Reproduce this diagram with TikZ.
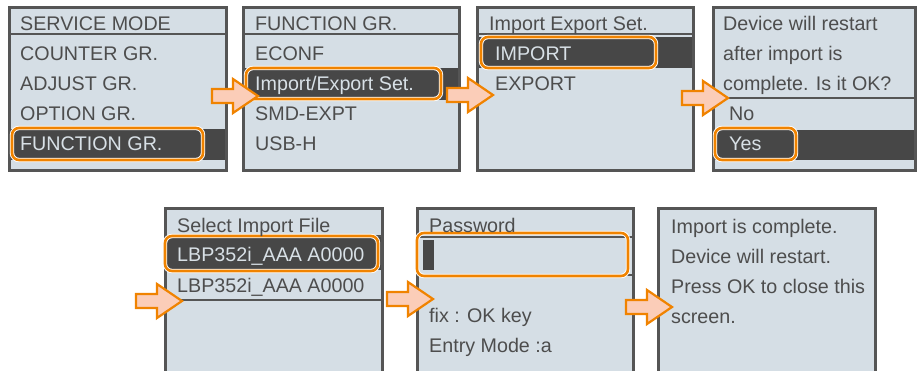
\documentclass[tikz,border=0pt]{standalone}
\usepackage{fontspec}
\setmainfont{Liberation Sans}

\definecolor{screen}{HTML}{D5DEE5}
\definecolor{frame}{HTML}{555555}
\definecolor{barfill}{HTML}{474747}
\definecolor{ink}{HTML}{4D4D4D}
\definecolor{pale}{HTML}{D8E0E6}
\definecolor{marker}{HTML}{F08300}
\definecolor{peach}{HTML}{FBCDB8}

\begin{document}
\begin{tikzpicture}[x=1pt, y=-1pt,
        panel/.style={draw=frame, fill=screen, line width=3pt},
        rule/.style={draw=frame, line width=2pt},
        darkrow/.style={fill=barfill},
        row/.style={anchor=west, inner sep=0pt, text height=14pt, text depth=0pt, text=ink, font=\fontsize{19.7}{22}\selectfont},
        hi/.style={row, text=pale},
        pick/.style={draw=white, double=marker, double distance=2.6pt, line width=0.9pt, rounded corners=7pt},
        hint/.style={draw=marker, fill=peach, line width=2.2pt}
    ]
    \useasboundingbox (0,0) rectangle (917,370);

    % SERVICE MODE
    \begin{scope}[shift={(9,7)}]
        \draw[panel] (0,0) rectangle (217,163);
        \draw[rule] (1.5,27) -- (215.5,27);
        \fill[darkrow] (1.5,122) rectangle (215.5,153);
        \draw[pick] (3,121) rectangle (194,153);
        \node[row] (a0) at (11,16) {SERVICE MODE};
        \foreach \t [count=\i] in {COUNTER GR., ADJUST GR., OPTION GR.}
            \node[row] (a\i) at (11,16+30*\i) {\t};
        \node[hi] (a4) at (11,136) {FUNCTION GR.};
    \end{scope}

    % FUNCTION GR.
    \begin{scope}[shift={(243,7)}]
        \draw[panel] (0,0) rectangle (216,163);
        \draw[rule] (1.5,27) -- (214.5,27);
        \fill[darkrow] (1.5,61) rectangle (214.5,93);
        \draw[pick] (3,61) rectangle (198,92);
        \node[row] (b0) at (12,16) {FUNCTION GR.};
        \node[row] (b1) at (12,46) {ECONF};
        \node[hi] (b2) at (12,76) {Import/Export Set.};
        \node[row] (b3) at (12,106) {SMD-EXPT};
        \node[row] (b4) at (12,136) {USB-H};
    \end{scope}

    % Import Export Set.
    \begin{scope}[shift={(477,7)}]
        \draw[panel] (0,0) rectangle (216,163);
        \draw[rule] (1.5,27) -- (214.5,27);
        \fill[darkrow] (1.5,30) rectangle (214.5,61);
        \draw[pick] (4,30) rectangle (179,61);
        \node[row] (c0) at (12,16) {Import Export Set.};
        \node[hi] (c1) at (18,46) {IMPORT};
        \node[row] (c2) at (18,76) {EXPORT};
    \end{scope}

    % confirm
    \begin{scope}[shift={(713,7)}]
        \draw[panel] (0,0) rectangle (202,163);
        \draw[rule] (1.5,91) -- (200.5,91);
        \fill[darkrow] (1.5,123) rectangle (200.5,153);
        \draw[pick] (2,121) rectangle (83,153);
        \foreach \t [count=\i from 0] in {Device will restart, after import is, complete. Is it OK?}
            \node[row] (d\i) at (10,16+30*\i) {\t};
        \node[row] (d3) at (16,106) {No};
        \node[hi] (d4) at (16,136) {Yes};
    \end{scope}

    % Select Import File
    \begin{scope}[shift={(165,208)}]
        \draw[panel] (0,0) rectangle (217,168);
        \draw[rule] (1.5,28) -- (215.5,28);
        \draw[rule] (1.5,92) -- (215.5,92);
        \fill[darkrow] (1.5,29) rectangle (215.5,62);
        \draw[pick] (0,28) rectangle (213,63);
        \node[row] (e0) at (12,17) {Select Import File};
        \node[hi] (e1) at (12,46) {LBP352i\_AAA A0000};
        \node[row] (e2) at (12,77) {LBP352i\_AAA A0000};
    \end{scope}

    % Password
    \begin{scope}[shift={(417,208)}]
        \draw[panel] (0,0) rectangle (216,168);
        \draw[rule] (1.5,29) -- (214.5,29);
        \draw[rule] (1.5,67) -- (214.5,67);
        \draw[pick] (0,25) rectangle (211,68);
        \fill[darkrow] (6,32) rectangle (17,62);
        \node[row] (f0) at (12,17) {Password};
        \node[row] (f1) at (12,107) {fix : OK key};
        \node[row] (f2) at (12,137) {Entry Mode :a};
    \end{scope}

    % done
    \begin{scope}[shift={(658,208)}]
        \draw[panel] (0,0) rectangle (217,168);
        \foreach \t [count=\i from 0] in {Import is complete., Device will restart., Press OK to close this, screen.}
            \node[row] (g\i) at (13,18+30*\i) {\t};
    \end{scope}

    \foreach \x/\y in {212/96, 447/95, 682/98, 136/301, 387/299, 626/307}
        \draw[hint] (\x,\y-7) -- ++(21,0) -- ++(0,-10) -- ++(25,17)
            -- ++(-25,17) -- ++(0,-10) -- ++(-21,0) -- cycle;
\end{tikzpicture}
\end{document}
